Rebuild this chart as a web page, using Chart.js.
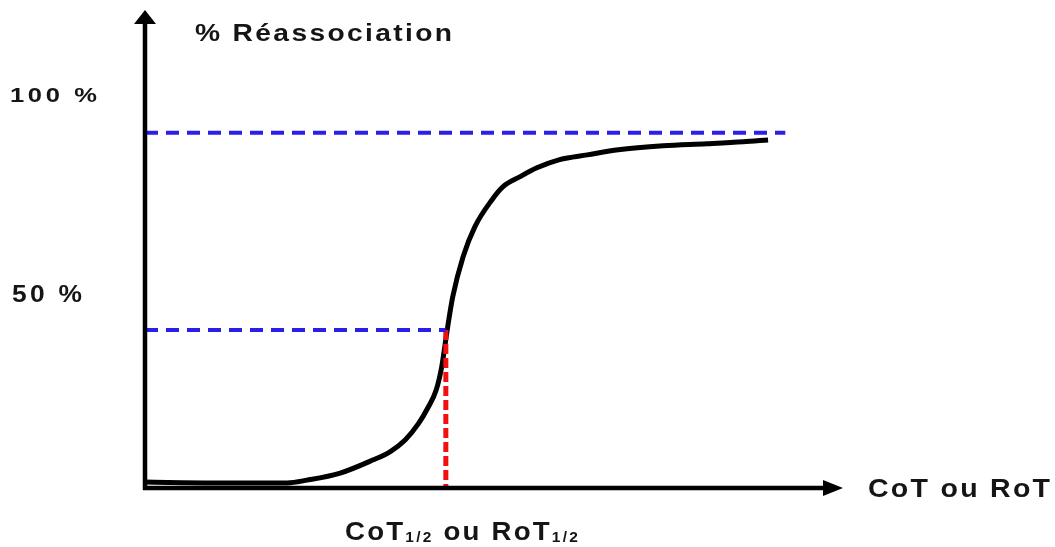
<!DOCTYPE html>
<html>
<head>
<meta charset="utf-8">
<script src="https://cdn.jsdelivr.net/npm/chart.js@4.4.1/dist/chart.umd.min.js"></script>
<style>
    html, body { margin: 0; padding: 0; background: #fff; }
    #wrap { width: 1055px; height: 547px; }
</style>
</head>
<body>
<div id="wrap"><canvas id="cotChart"></canvas></div>
<script>
// Reassociation curve (arbitrary CoT units on x, % on y)
const curveX = [0, 9.9, 20.6, 23.5, 28.3, 33.0, 35.5, 37.7, 39.6, 41.0, 42.2, 43.0, 43.8, 44.6, 46.1, 47.8, 50.3, 51.9, 54.3, 56.8, 60.1, 64.1, 68.6, 75.1, 81.4, 86.7, 90.3];
const curveY = [1.5, 1.3, 1.3, 2.0, 3.8, 7.1, 9.2, 12.2, 16.3, 20.4, 24.9, 30.8, 40.2, 48.6, 58.8, 66.4, 73.3, 76.6, 79.1, 81.4, 83.5, 84.7, 86.0, 87.0, 87.5, 88.0, 88.5];

// Reference lines
const plateauY = 90.3;
const plateauEndX = 92.8;
const halfY = 40.2;
const halfX = 43.6;

// Axis labels
const yTickValues = [100, 50];
const yTickLabels = ['100 %', '50 %'];
const yTitle = '% Réassociation';
const xTitle = 'CoT ou RoT';

document.addEventListener('DOMContentLoaded', function() {
    initializeCotChart();
});

// Draw text horizontally stretched to a given width
function drawFit(ctx, text, x, y, width, spacing) {
    ctx.letterSpacing = spacing + 'px';
    const w = ctx.measureText(text).width - spacing;
    ctx.save();
    ctx.translate(x, y);
    ctx.scale(width / w, 1);
    ctx.fillText(text, 0, 0);
    ctx.restore();
    ctx.letterSpacing = '0px';
}

const axesPlugin = {
    id: 'axesPlugin',
    afterDatasetsDraw(chart) {
        const ctx = chart.ctx;
        const xs = chart.scales.x;
        const ys = chart.scales.y;
        const x0 = xs.getPixelForValue(0);
        const y0 = ys.getPixelForValue(0);
        const yTip = ys.top - 6;
        const xTip = xs.right + 8;

        ctx.save();
        ctx.strokeStyle = '#000';
        ctx.fillStyle = '#000';
        ctx.lineWidth = 4.5;
        ctx.lineCap = 'butt';

        // y axis + arrow
        ctx.beginPath();
        ctx.moveTo(x0, y0 + 2);
        ctx.lineTo(x0, yTip + 12);
        ctx.stroke();
        ctx.beginPath();
        ctx.moveTo(x0, yTip);
        ctx.lineTo(x0 - 11, yTip + 14);
        ctx.lineTo(x0 + 11, yTip + 14);
        ctx.closePath();
        ctx.fill();

        // x axis + arrow
        ctx.beginPath();
        ctx.moveTo(x0 - 2, y0);
        ctx.lineTo(xTip - 12, y0);
        ctx.stroke();
        ctx.beginPath();
        ctx.moveTo(xTip, y0);
        ctx.lineTo(xTip - 20, y0 - 8);
        ctx.lineTo(xTip - 20, y0 + 8);
        ctx.closePath();
        ctx.fill();

        // texts
        ctx.fillStyle = '#151515';
        ctx.textBaseline = 'alphabetic';
        ctx.textAlign = 'left';

        ctx.font = 'bold 24px "Liberation Sans", Arial, sans-serif';
        drawFit(ctx, yTitle, x0 + 50, 41, 257, 2);

        ctx.font = 'bold 21px "Liberation Sans", Arial, sans-serif';
        drawFit(ctx, yTickLabels[0], 10, ys.getPixelForValue(yTickValues[0]) + 7, 87, 3);
        ctx.font = 'bold 24px "Liberation Sans", Arial, sans-serif';
        drawFit(ctx, yTickLabels[1], 12, ys.getPixelForValue(yTickValues[1]) + 11, 70, 3);

        ctx.font = 'bold 25px "Liberation Sans", Arial, sans-serif';
        drawFit(ctx, xTitle, xTip + 25, y0 + 9, 182, 2);

        // CoT1/2 ou RoT1/2 under the half point
        const parts = [
            ['CoT', false], ['1/2', true], [' ou RoT', false], ['1/2', true]
        ];
        const mainFont = 'bold 25px "Liberation Sans", Arial, sans-serif';
        const subFont = 'bold 14px "Liberation Sans", Arial, sans-serif';
        let total = 0;
        parts.forEach(([t, sub]) => {
            ctx.font = sub ? subFont : mainFont;
            ctx.letterSpacing = '2px';
            total += ctx.measureText(t).width;
        });
        ctx.save();
        ctx.translate(345, 0);
        ctx.scale(235 / total, 1);
        let cx = 0;
        parts.forEach(([t, sub]) => {
            ctx.font = sub ? subFont : mainFont;
            ctx.letterSpacing = '2px';
            ctx.fillText(t, cx, sub ? 542 : 540);
            cx += ctx.measureText(t).width;
        });
        ctx.restore();
        ctx.letterSpacing = '0px';
        ctx.restore();
    }
};

function initializeCotChart() {
    const ctx = document.getElementById('cotChart');
    if (!ctx) return;

    new Chart(ctx, {
        type: 'line',
        data: {
            datasets: [
                {
                    label: 'plateau',
                    data: [{ x: 0, y: plateauY }, { x: plateauEndX, y: plateauY }],
                    borderColor: '#2a1ee8',
                    borderWidth: 4,
                    borderDash: [13, 8],
                    pointRadius: 0
                },
                {
                    label: 'half',
                    data: [{ x: 0, y: halfY }, { x: halfX, y: halfY }],
                    borderColor: '#2a1ee8',
                    borderWidth: 4,
                    borderDash: [13, 8],
                    pointRadius: 0
                },
                {
                    label: 'cot half',
                    data: [{ x: halfX, y: halfY }, { x: halfX, y: 0 }],
                    borderColor: '#f01010',
                    borderWidth: 5,
                    borderDash: [10, 4],
                    pointRadius: 0
                },
                {
                    label: 'Réassociation',
                    data: curveX.map((x, i) => ({ x: x, y: curveY[i] })),
                    borderColor: '#000',
                    borderWidth: 5,
                    cubicInterpolationMode: 'monotone',
                    pointRadius: 0
                }
            ]
        },
        options: {
            responsive: true,
            maintainAspectRatio: false,
            animation: false,
            layout: {
                padding: { left: 145, right: 220, top: 16, bottom: 59 }
            },
            plugins: {
                legend: { display: false },
                tooltip: { enabled: false }
            },
            scales: {
                x: { type: 'linear', min: 0, max: 100, display: false },
                y: { min: 0, max: 120, display: false }
            }
        },
        plugins: [axesPlugin]
    });
}
</script>
</body>
</html>
